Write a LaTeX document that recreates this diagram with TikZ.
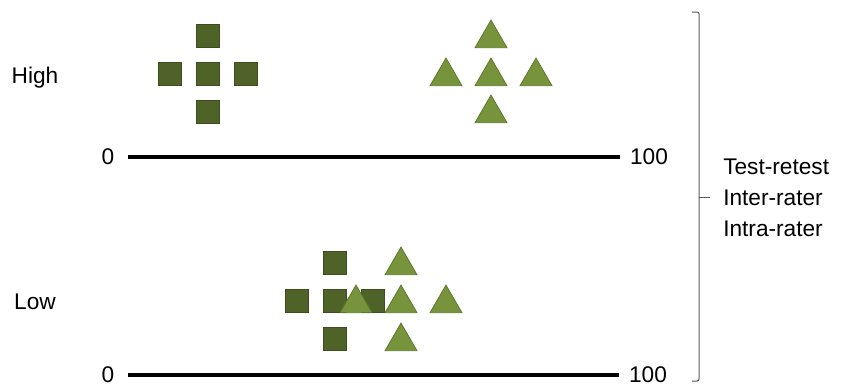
\documentclass[tikz,border=0pt]{standalone}
\usepackage{fontspec}
\setmainfont{Liberation Sans}
\usetikzlibrary{positioning,shapes.geometric}
\definecolor{olivedark}{HTML}{4F6228}
\definecolor{olivedraw}{HTML}{3E4D1F}
\definecolor{leafgreen}{HTML}{77933C}
\definecolor{leafdraw}{HTML}{5C7A2C}
\definecolor{bracegray}{HTML}{595959}

\begin{document}
\begin{tikzpicture}[
    x=0.75pt, y=-0.75pt,
    node distance=10.5pt,
    sq/.style={rectangle, fill=olivedark, draw=olivedraw, line width=0.6pt, minimum size=17.4pt, inner sep=0pt},
    tri/.style={regular polygon, regular polygon sides=3, fill=leafgreen, draw=leafdraw, line width=0.6pt, minimum size=27.7pt, inner sep=0pt},
    lbl/.style={font=\fontsize{17}{23.25}\selectfont, inner sep=0pt},
    axis/.style={line width=3pt, black},
    brace/.style={line width=0.75pt, bracegray, rounded corners=1.5pt}
]
\useasboundingbox (0,0) rectangle (842,387);

% high agreement
\node[lbl, anchor=base] (high) at (35,83) {High};
\node[sq] (sqH) at (208,74) {};
\node[sq] (sqHup) [above=of sqH] {};
\node[sq] (sqHdown) [below=of sqH] {};
\node[sq] (sqHleft) [left=of sqH] {};
\node[sq] (sqHright) [right=of sqH] {};

\node[tri] (triHup) at (491,38.5) {};
\node[tri] (triHleft) at (446,76.5) {};
\node[tri] (triH) at (491,76.5) {};
\node[tri] (triHright) at (536,76.5) {};
\node[tri] (triHdown) at (491,113.5) {};

\node[lbl] (zeroH) at (108,157) {0};
\node[lbl] (hundH) at (649,157) {100};
\draw[axis, shorten <=10.3pt, shorten >=7.5pt] (zeroH) -- (hundH);

% low agreement
\node[lbl, anchor=base] (low) at (35,309) {Low};
\node[sq] (sqL) at (335,301) {};
\node[sq] (sqLup) [above=of sqL] {};
\node[sq] (sqLdown) [below=of sqL] {};
\node[sq] (sqLleft) [left=of sqL] {};
\node[sq] (sqLright) [right=of sqL] {};

\node[tri] (triLup) at (401,265.5) {};
\node[tri] (triLleft) at (356,303.5) {};
\node[tri] (triL) at (401,303.5) {};
\node[tri] (triLright) at (446,303.5) {};
\node[tri] (triLdown) at (401,341.5) {};

\node[lbl] (zeroL) at (108,375) {0};
\node[lbl] (hundL) at (648,375) {100};
\draw[axis, shorten <=10pt, shorten >=7.5pt] (zeroL) -- (hundL);

% reliability types
\node[lbl, anchor=west, align=left] (rel) at (723,197.5) {Test-retest\\Inter-rater\\Intra-rater};
\draw[brace] (692,12) -- (699,12) -- (699,381) -- (692,381);
\coordinate (bmid) at (699,197.5);
\draw[brace, shorten >=9.75pt] (bmid) -- (rel.west);

\end{tikzpicture}
\end{document}
